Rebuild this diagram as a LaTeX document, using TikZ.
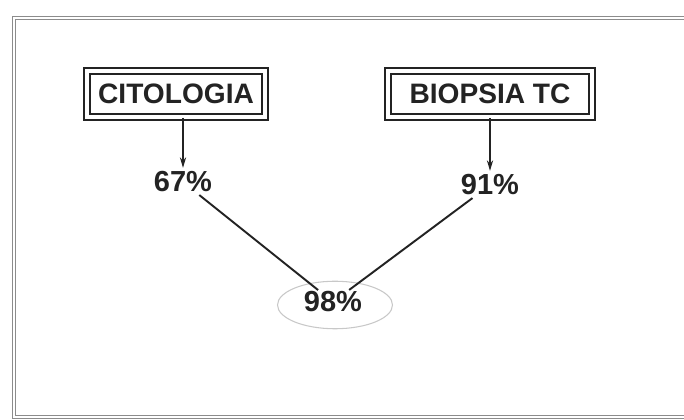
\documentclass[tikz,border=0pt]{standalone}
\usepackage{fontspec}
\setmainfont{Liberation Sans}
\usepackage{xcolor}
\usetikzlibrary{arrows.meta,shapes.geometric}
\definecolor{SCInk}{HTML}{232323}
\definecolor{SCFrame}{HTML}{8C8C8C}
\definecolor{SCHalo}{HTML}{C8C8C8}

\tikzset{
  testbox/.style={draw=SCInk,double=white,double distance=2.2pt,line width=1pt,
    minimum height=.92cm,inner xsep=4pt,font=\fontsize{16}{18}\selectfont\bfseries,text=SCInk},
  rate/.style={inner sep=2pt,font=\fontsize{16.5}{18}\selectfont\bfseries,text=SCInk},
  link/.style={SCInk,line width=1.1pt,shorten <=-1pt,shorten >=-2pt},
  down/.style={SCInk,line width=1.1pt,-{Stealth[length=6pt,width=3.5pt]}}
}

\begin{document}
\begin{tikzpicture}[x=1cm,y=1cm]
\path[use as bounding box] (0,0) rectangle (13.68,8.40);
\fill[white] (0,0) rectangle (13.68,8.40);
% frame of the scanned figure
\draw[SCFrame,double=white,double distance=1.2pt,line width=.5pt] (13.80,8.04) -- (0.28,8.04) -- (0.28,0.06) -- (13.80,0.06);
\node[testbox,minimum width=3.56cm] (cito) at (3.52,6.52) {CITOLOGIA};
\node[testbox,minimum width=4.08cm] (biop) at (9.80,6.52) {BIOPSIA TC};
\node[rate] (p67) at (3.66,4.76) {67\%};
\node[rate] (p91) at (9.80,4.70) {91\%};
\node[ellipse,draw=SCHalo,line width=.6pt,minimum width=2.3cm,minimum height=.95cm] (halo) at (6.70,2.30) {};
\node[rate] (p98) at (6.66,2.36) {98\%};
\draw[down] (p67 |- cito.south) -- (p67.north);
\draw[down] (p91 |- biop.south) -- (p91.north);
\draw[link] (p67) -- (p98);
\draw[link] (p91) -- (p98);
\end{tikzpicture}
\end{document}
